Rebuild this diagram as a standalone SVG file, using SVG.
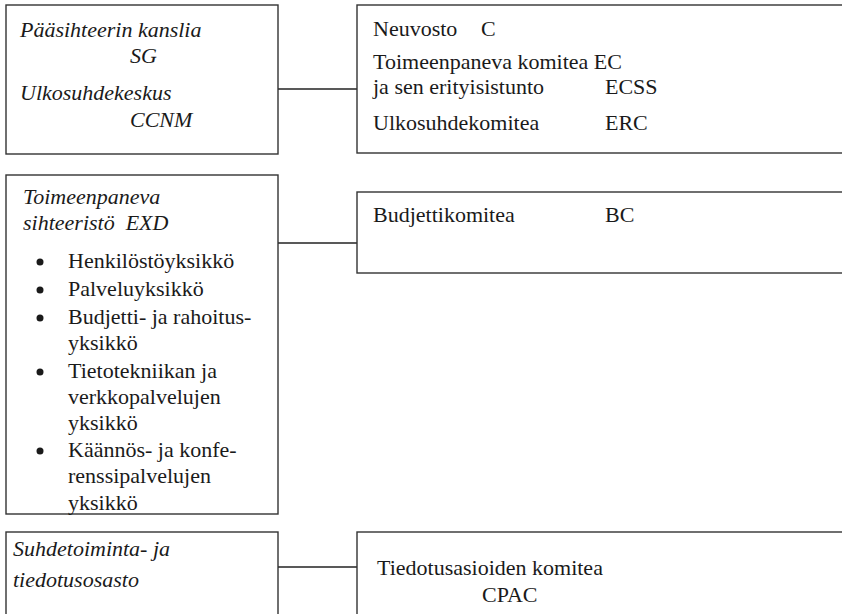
<svg xmlns="http://www.w3.org/2000/svg" width="842" height="614" viewBox="0 0 842 614">
<style>
.box{fill:#fff;stroke:#333;stroke-width:1.4}
.c{stroke:#222;stroke-width:1.4;fill:none}
.b{fill:#1a1a1a}
</style>
<rect width="842" height="614" fill="#fff"/>
<g id="connectors">
<line class="c" x1="278" y1="89" x2="359" y2="89"/>
<line class="c" x1="278" y1="243" x2="359" y2="243"/>
<line class="c" x1="278" y1="567" x2="359" y2="567"/>
</g>
<g font-family="Liberation Serif, Times New Roman, Tinos, Noto Serif, serif" font-size="22" fill="#1a1a1a">
<g id="sg">
<rect class="box" x="6" y="5" width="272" height="149"/>
<g font-style="italic">
<text x="20" y="37">Pääsihteerin kanslia</text>
<text x="130" y="63">SG</text>
<text x="20" y="100">Ulkosuhdekeskus</text>
<text x="130" y="127">CCNM</text>
</g>
</g>
<g id="council">
<rect class="box" x="357" y="5" width="500" height="148"/>
<text x="373" y="36">Neuvosto</text>
<text x="481" y="36">C</text>
<text x="373" y="69">Toimeenpaneva komitea EC</text>
<text x="373" y="94">ja sen erityisistunto</text>
<text x="605" y="94">ECSS</text>
<text x="373" y="130">Ulkosuhdekomitea</text>
<text x="605" y="130">ERC</text>
</g>
<g id="exd">
<rect class="box" x="6" y="175" width="272" height="339"/>
<text font-style="italic" x="23" y="204">Toimeenpaneva</text>
<text font-style="italic" x="23" y="230" xml:space="preserve">sihteeristö  EXD</text>
<circle class="b" cx="40" cy="262" r="3.5"/>
<circle class="b" cx="40" cy="290" r="3.5"/>
<circle class="b" cx="40" cy="318" r="3.5"/>
<circle class="b" cx="40" cy="372" r="3.5"/>
<circle class="b" cx="40" cy="451" r="3.5"/>
<text x="68" y="268">Henkilöstöyksikkö</text>
<text x="68" y="296">Palveluyksikkö</text>
<text x="68" y="324">Budjetti- ja rahoitus-</text>
<text x="68" y="350">yksikkö</text>
<text x="68" y="378">Tietotekniikan ja</text>
<text x="68" y="404">verkkopalvelujen</text>
<text x="68" y="430">yksikkö</text>
<text x="68" y="457">Käännös- ja konfe-</text>
<text x="68" y="483">renssipalvelujen</text>
<text x="68" y="510">yksikkö</text>
</g>
<g id="bc">
<rect class="box" x="357" y="192" width="500" height="81"/>
<text x="373" y="222">Budjettikomitea</text>
<text x="605" y="222">BC</text>
</g>
<g id="pr">
<rect class="box" x="6" y="532" width="272" height="100"/>
<text font-style="italic" x="13" y="556">Suhdetoiminta- ja</text>
<text font-style="italic" x="13" y="587">tiedotusosasto</text>
</g>
<g id="cpac">
<rect class="box" x="357" y="532" width="500" height="100"/>
<text x="377" y="575">Tiedotusasioiden komitea</text>
<text x="482" y="602">CPAC</text>
</g>
</g>
</svg>
